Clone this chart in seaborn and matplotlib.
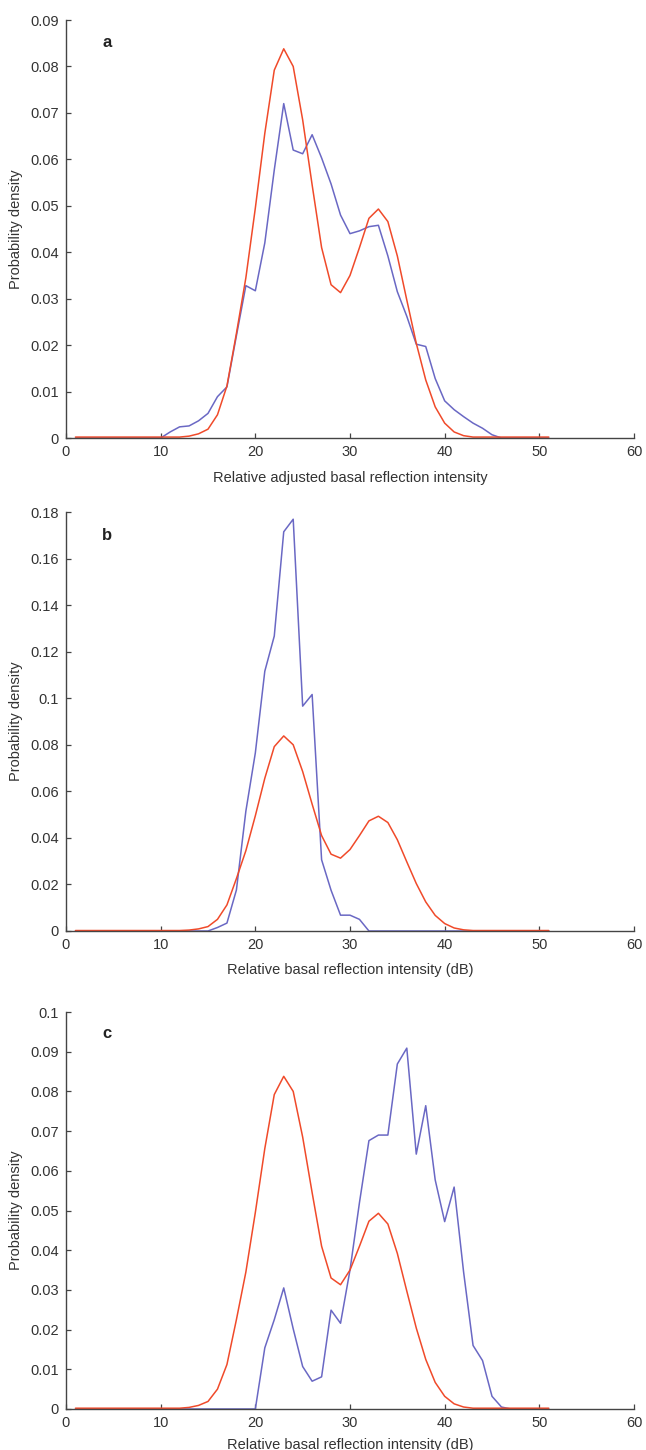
import matplotlib
matplotlib.use("Agg")
import matplotlib.pyplot as plt
import seaborn as sns
import pandas as pd

# ---------------- data ----------------
x_vals = list(range(1, 52))

reference_density = [0.0002] * 12 + [
    0.0004, 0.0009, 0.0019, 0.0050, 0.0112, 0.0225, 0.0345, 0.0495, 0.0656, 0.0792,
    0.0838, 0.0800, 0.0685, 0.0545, 0.0410, 0.0330, 0.0313, 0.0350, 0.0410, 0.0473,
    0.0493, 0.0466, 0.0392, 0.0297, 0.0204, 0.0125, 0.0067, 0.0032, 0.0013, 0.0005,
] + [0.0002] * 9

blue_a = [0.0] * 10 + [
    0.0013, 0.0024, 0.0026, 0.0037, 0.0053, 0.0089, 0.0110, 0.0220, 0.0328, 0.0317,
    0.0420, 0.0577, 0.0720, 0.0620, 0.0612, 0.0653, 0.0603, 0.0547, 0.0480, 0.0440,
    0.0446, 0.0455, 0.0458, 0.0392, 0.0315, 0.0262, 0.0202, 0.0197, 0.0128, 0.0080,
    0.0061, 0.0046, 0.0032, 0.0021, 0.0007,
] + [0.0] * 6

blue_b = [0.0] * 15 + [
    0.0015, 0.0034, 0.0176, 0.0515, 0.0765, 0.1116, 0.1267, 0.1715, 0.1769, 0.0966,
    0.1016, 0.0306, 0.0175, 0.0068, 0.0068, 0.0050,
] + [0.0] * 20

blue_c = [0.0] * 20 + [
    0.0154, 0.0225, 0.0305, 0.0202, 0.0107, 0.0070, 0.0081, 0.0249, 0.0216, 0.0350,
    0.0520, 0.0676, 0.0690, 0.0690, 0.0869, 0.0909, 0.0642, 0.0764, 0.0577, 0.0472,
    0.0559, 0.0345, 0.0160, 0.0122, 0.0032, 0.0005,
] + [0.0] * 5

panel_letters = ["a", "b", "c"]
x_labels = [
    "Relative adjusted basal reflection intensity",
    "Relative basal reflection intensity (dB)",
    "Relative basal reflection intensity (dB)",
]
y_label = "Probability density"
x_ticks = [0, 10, 20, 30, 40, 50, 60]
y_ticks_a = [0, 0.01, 0.02, 0.03, 0.04, 0.05, 0.06, 0.07, 0.08, 0.09]
y_ticks_b = [0, 0.02, 0.04, 0.06, 0.08, 0.1, 0.12, 0.14, 0.16, 0.18]
y_ticks_c = [0, 0.01, 0.02, 0.03, 0.04, 0.05, 0.06, 0.07, 0.08, 0.09, 0.1]

# ---------------- style ----------------
sns.set_style("white")
plt.rcParams["font.family"] = ["Liberation Sans", "DejaVu Sans"]

RED = "#f04a2a"
BLUE = "#6a68c4"
TEXT = "#333333"

fig = plt.figure(figsize=(6.46, 14.5), dpi=100)
left, width = 66 / 646, 568 / 646
boxes = [
    (1 - 438 / 1450, (438 - 20) / 1450),
    (1 - 931 / 1450, (931 - 512) / 1450),
    (1 - 1409 / 1450, (1409 - 1012) / 1450),
]
blues = [blue_a, blue_b, blue_c]
yticks = [y_ticks_a, y_ticks_b, y_ticks_c]
xlabel_pads = [9, 8, 6]

def fmt(v):
    if v == 0:
        return "0"
    return f"{v:.2f}".rstrip("0")

for i in range(3):
    bottom, height = boxes[i]
    ax = fig.add_axes([left, bottom, width, height])
    df = pd.DataFrame({"x": x_vals, "ref": reference_density, "obs": blues[i]})
    sns.lineplot(data=df, x="x", y="obs", ax=ax, color=BLUE, linewidth=1.1)
    sns.lineplot(data=df, x="x", y="ref", ax=ax, color=RED, linewidth=1.1)
    ax.set_xlim(0, 60)
    ax.set_ylim(0, yticks[i][-1])
    ax.set_xticks(x_ticks)
    ax.set_xticklabels([str(t) for t in x_ticks])
    ax.set_yticks(yticks[i])
    ax.set_yticklabels([fmt(t) for t in yticks[i]])
    ax.tick_params(direction="in", length=3.5, width=0.9, colors="#444444",
                   labelcolor=TEXT, labelsize=10.5, pad=5,
                   bottom=True, left=True, top=False, right=False)
    for s in ["top", "right"]:
        ax.spines[s].set_visible(False)
    for s in ["left", "bottom"]:
        ax.spines[s].set_color("#444444")
        ax.spines[s].set_linewidth(1.0)
    ax.set_xlabel(x_labels[i], fontsize=10.5, color=TEXT, labelpad=xlabel_pads[i])
    ax.set_ylabel(y_label, fontsize=10.5, color=TEXT, labelpad=5)
    ax.text(0.064, 0.945, panel_letters[i], transform=ax.transAxes,
            fontsize=12, fontweight="bold", color="#222222", va="center")
    ax.set_facecolor("white")

fig.savefig("out.png", dpi=100, facecolor="white")
